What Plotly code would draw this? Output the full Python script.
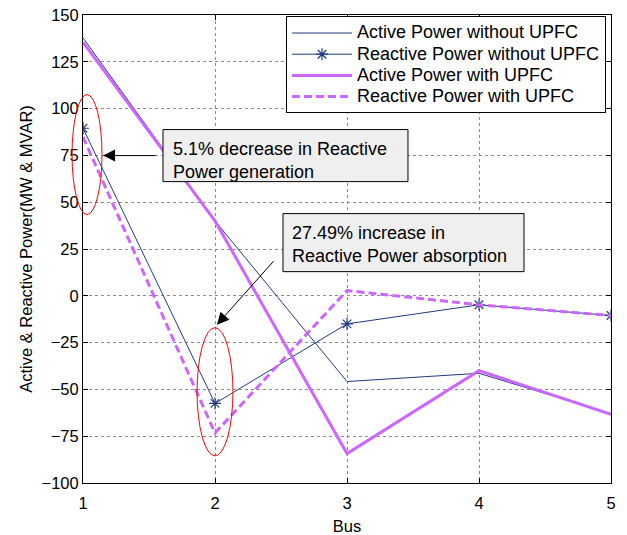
import plotly.graph_objects as go

buses = [1, 2, 3, 4, 5]
active_without = [137.8, 40.0, -45.8, -41.4, -62.9]
reactive_without = [89.5, -57.5, -15.0, -4.8, -10.5]
active_with = [135.5, 40.0, -84.3, -40.0, -63.3]
reactive_with = [84.9, -73.3, 2.8, -4.8, -10.5]

names = ["Active Power without UPFC", "Reactive Power without UPFC",
         "Active Power with UPFC", "Reactive Power with UPFC"]

NAVY = "#1f3b82"
VIOLET = "#cc66ff"
FONT = "Liberation Sans, Arial, sans-serif"

XR = [1, 5]
YR = [-100, 150]


def xd(v):
    return (v - XR[0]) / (XR[1] - XR[0])


def yd(v):
    return (v - YR[0]) / (YR[1] - YR[0])


def lg(name):
    return '<span style="font-size:18px">' + name + '</span>'


fig = go.Figure()
fig.add_trace(go.Scatter(x=buses, y=active_without, mode="lines", name=lg(names[0]),
                         line=dict(color=NAVY, width=1)))
fig.add_trace(go.Scatter(x=buses, y=reactive_without, mode="lines+markers", name=lg(names[1]),
                         line=dict(color=NAVY, width=1),
                         marker=dict(symbol="asterisk-open", size=10,
                                     line=dict(color=NAVY, width=1.2))))
fig.add_trace(go.Scatter(x=buses, y=active_with, mode="lines", name=lg(names[2]),
                         line=dict(color=VIOLET, width=3)))
fig.add_trace(go.Scatter(x=buses, y=reactive_with, mode="lines", name=lg(names[3]),
                         line=dict(color=VIOLET, width=3, dash="8px,4px")))

shapes = []
# red ellipses (domain refs so they are not clipped at the axis)
for (x0, x1, y0, y1) in [(0.917, 1.144, 43.4, 107.5), (1.864, 2.136, -85.5, -17.0)]:
    shapes.append(dict(type="circle", xref="x domain", yref="y domain",
                       x0=xd(x0), x1=xd(x1), y0=yd(y0), y1=yd(y1),
                       line=dict(color="red", width=1), layer="above"))
# annotation boxes
for (x0, x1, y0, y1) in [(1.606, 3.462, 61.0, 88.8), (2.515, 4.341, 12.9, 43.9)]:
    shapes.append(dict(type="rect", xref="x", yref="y", x0=x0, x1=x1, y0=y0, y1=y1,
                       fillcolor="#efefef", line=dict(color="black", width=1),
                       layer="above"))

annotations = [
    dict(x=1.665, y=85.0, xref="x", yref="y", xanchor="left", yanchor="top",
         text="5.1% decrease in Reactive<br>Power generation", align="left",
         showarrow=False, font=dict(family=FONT, size=18, color="black")),
    dict(x=2.570, y=40.0, xref="x", yref="y", xanchor="left", yanchor="top",
         text="27.49% increase in<br>Reactive Power absorption", align="left",
         showarrow=False, font=dict(family=FONT, size=18, color="black")),
    dict(x=1.152, y=74.9, xref="x", yref="y", text="", showarrow=True,
         ax=54, ay=0, arrowhead=2, arrowsize=2.4, arrowwidth=1, arrowcolor="black"),
    dict(x=2.015, y=-15.4, xref="x", yref="y", text="", showarrow=True,
         ax=58, ay=-65, arrowhead=2, arrowsize=2.4, arrowwidth=1, arrowcolor="black"),
]

axis_common = dict(showline=True, linecolor="black", linewidth=1, mirror="ticks",
                   ticks="inside", ticklen=5, tickcolor="black", automargin=False,
                   showgrid=True, gridcolor="#8c8c8c", griddash="dot", gridwidth=1,
                   zeroline=False, tickfont=dict(family=FONT, size=16.5, color="black"))

fig.update_layout(
    width=627, height=535,
    margin=dict(l=83, r=16, t=15, b=52, autoexpand=False),
    paper_bgcolor="white", plot_bgcolor="white",
    font=dict(family=FONT, color="black"),
    xaxis=dict(range=XR, tickvals=buses, ticklabelstandoff=5,
               title=dict(text="Bus", font=dict(size=16.5), standoff=10),
               **axis_common),
    yaxis=dict(range=YR, dtick=25, tick0=0,
               title=dict(text="Active & Reactive Power(MW & MVAR)", font=dict(size=16.5), standoff=4),
               **axis_common),
    legend=dict(x=0.3845, y=0.997, xanchor="left", yanchor="top",
                bgcolor="white", bordercolor="black", borderwidth=1,
                font=dict(family=FONT, size=14, color="black"),
                itemwidth=60, tracegroupgap=0),
    shapes=shapes,
    annotations=annotations,
    showlegend=True,
)

fig.write_html("out.html")
